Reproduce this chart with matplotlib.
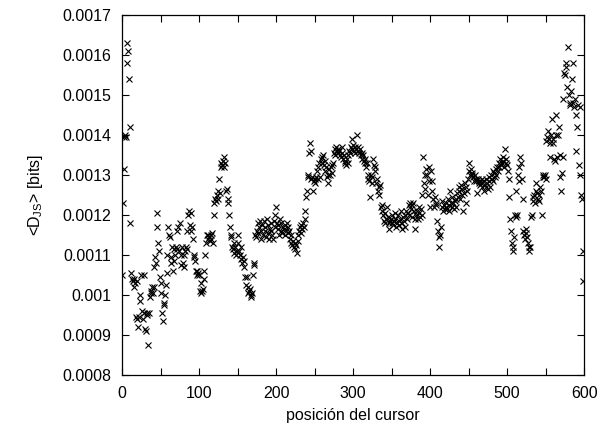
import numpy as np
import matplotlib
matplotlib.use('Agg')
import matplotlib.pyplot as plt
from matplotlib.ticker import MultipleLocator

plt.rcParams['font.family'] = ['Liberation Sans', 'DejaVu Sans']
plt.rcParams['mathtext.default'] = 'regular'

# <D_JS> per cursor position (units of 1e-4 bits)
djs_e4 = [
    10.5, 12.3, 13.15, 13.95, 14.0, 13.95, 15.8, 16.3, 16.1, 15.4,
    14.2, 11.8, 10.55, 10.4, 10.35, 10.2, 10.4, 10.3, 9.45, 9.4,
    10.35, 9.2, 9.45, 10.0, 9.85, 10.5, 9.6, 9.4, 10.5, 9.55,
    9.15, 9.1, 9.55, 9.5, 8.75, 9.55, 9.95, 10.1, 10.05, 10.2,
    10.05, 10.2, 10.7, 10.95, 10.8, 12.05, 11.7, 11.3, 11.1, 10.45,
    10.3, 10.05, 9.55, 9.35, 9.8, 9.75, 10.0, 10.25, 10.55, 11.0,
    11.7, 11.5, 11.45, 10.8, 10.95, 11.2, 10.6, 10.85, 11.15, 11.0,
    11.2, 11.6, 11.15, 11.7, 11.1, 11.8, 11.0, 10.75, 11.2, 10.8,
    10.7, 11.0, 11.1, 11.2, 11.6, 11.15, 12.0, 12.1, 11.75, 12.05,
    11.6, 11.7, 11.4, 11.0, 10.95, 10.85, 10.6, 10.5, 10.6, 10.55,
    10.5, 10.1, 10.05, 10.3, 10.1, 10.15, 10.4, 10.6, 11.0, 11.3,
    11.5, 11.4, 11.5, 11.45, 11.35, 11.5, 11.4, 11.55, 11.3, 12.0,
    12.3, 12.4, 12.35, 12.5, 12.6, 12.4, 12.9, 12.55, 13.2, 13.3,
    13.25, 13.35, 13.2, 13.45, 13.3, 12.6, 12.65, 12.4, 12.3, 12.0,
    11.7, 11.5, 11.45, 11.2, 11.15, 11.3, 11.05, 11.2, 11.0, 11.1,
    11.5, 11.3, 11.1, 11.0, 10.9, 11.2, 10.8, 10.95, 10.7, 10.85,
    10.45, 10.25, 10.45, 10.2, 10.05, 10.1, 10.15, 9.95, 10.0, 10.05,
    10.5, 10.8, 10.75, 11.5, 11.45, 11.6, 11.8, 11.55, 11.7, 11.85,
    11.6, 11.4, 11.75, 11.5, 11.85, 11.6, 11.7, 11.45, 11.9, 11.55,
    11.75, 11.4, 11.65, 11.8, 11.6, 11.5, 11.4, 11.85, 11.7, 12.0,
    12.2, 11.8, 11.65, 11.75, 11.5, 11.9, 11.6, 11.8, 11.55, 11.7,
    11.65, 11.5, 11.75, 11.6, 11.8, 11.7, 11.55, 11.6, 11.4, 11.3,
    11.5, 11.25, 11.35, 11.2, 11.3, 11.15, 11.25, 11.05, 11.35, 11.5,
    11.6, 11.7, 11.55, 11.75, 11.65, 11.8, 11.7, 11.9, 12.1, 12.45,
    12.6, 13.0, 12.95, 13.55, 13.8, 13.6, 12.9, 12.95, 12.6, 12.85,
    12.9, 12.8, 12.95, 13.1, 12.9, 13.2, 13.3, 12.95, 13.4, 13.45,
    13.3, 13.5, 13.25, 13.35, 13.1, 13.2, 12.95, 13.0, 12.8, 13.15,
    13.0, 13.2, 13.05, 13.25, 13.3, 13.55, 13.65, 13.5, 13.7, 13.6,
    13.65, 13.55, 13.6, 13.5, 13.45, 13.7, 13.55, 13.4, 13.5, 13.35,
    13.3, 13.25, 13.4, 13.3, 13.5, 13.6, 13.55, 13.7, 13.9, 13.65,
    13.75, 13.6, 13.7, 13.55, 13.65, 14.0, 13.7, 13.6, 13.55, 13.65,
    13.5, 13.55, 13.4, 13.5, 13.35, 13.3, 13.4, 13.2, 13.3, 13.0,
    12.9, 12.85, 12.45, 13.0, 12.8, 12.95, 13.4, 13.25, 13.1, 13.2,
    12.8, 12.9, 12.6, 12.7, 12.5, 12.75, 12.2, 12.1, 12.25, 12.0,
    11.85, 12.05, 11.8, 11.9, 12.2, 11.95, 11.8, 11.65, 11.85, 11.9,
    11.8, 12.0, 11.75, 11.85, 12.05, 11.9, 11.7, 11.8, 12.0, 11.85,
    11.75, 11.9, 12.1, 11.8, 11.65, 11.95, 11.85, 12.0, 11.7, 12.1,
    11.9, 12.05, 12.25, 12.0, 12.3, 12.15, 12.25, 11.95, 12.3, 12.1,
    11.9, 11.65, 12.0, 12.1, 11.9, 12.2, 12.05, 11.95, 12.15, 12.0,
    12.5, 13.45, 12.8, 13.0, 12.65, 13.15, 13.0, 12.5, 13.2, 12.85,
    12.2, 13.1, 12.6, 12.85, 12.4, 12.2, 12.45, 12.3, 12.25, 11.85,
    11.6, 11.45, 11.2, 11.5, 11.7, 12.2, 12.35, 12.1, 12.25, 12.15,
    12.3, 12.2, 12.15, 12.4, 12.25, 12.1, 12.6, 12.3, 12.2, 12.45,
    12.3, 12.15, 12.35, 12.2, 12.4, 12.55, 12.45, 12.7, 12.6, 12.4,
    12.75, 12.5, 12.65, 12.1, 12.55, 12.8, 12.3, 12.7, 12.6, 12.9,
    13.1, 13.3, 13.0, 13.15, 13.05, 13.0, 12.95, 12.85, 13.0, 12.9,
    12.85, 12.55, 12.9, 12.8, 12.85, 12.75, 12.8, 12.9, 12.7, 12.85,
    12.6, 12.75, 12.9, 12.7, 12.8, 12.65, 12.85, 12.95, 12.7, 13.0,
    12.9, 13.1, 12.85, 13.05, 12.95, 13.15, 13.0, 13.2, 13.1, 13.3,
    13.2, 13.4, 13.25, 13.3, 13.45, 13.35, 13.2, 13.65, 13.4, 13.3,
    13.25, 13.1, 12.9, 12.45, 11.9, 11.6, 11.3, 11.1, 11.2, 11.45,
    12.0, 11.95, 12.6, 12.0, 13.0, 12.85, 13.2, 13.45, 13.3, 12.9,
    12.4, 11.6, 11.5, 11.4, 11.55, 11.65, 11.45, 11.3, 11.2, 11.1,
    11.2, 11.95, 12.0, 12.35, 12.45, 12.5, 12.3, 12.6, 12.8, 12.55,
    12.4, 12.35, 12.5, 12.7, 12.6, 12.0, 12.95, 13.0, 12.95, 13.0,
    12.9, 13.85, 13.95, 14.1, 13.9, 13.8, 13.45, 14.0, 14.4, 13.9,
    13.8, 13.4, 13.35, 14.0, 14.5, 13.45, 14.0, 14.2, 13.5, 12.95,
    12.6, 13.05, 13.45, 14.9, 15.55, 15.5, 15.8, 15.7, 15.2, 16.2,
    15.0, 14.8, 14.75, 15.1, 15.4, 14.8, 15.8, 14.7, 14.9, 13.6,
    14.5, 14.2, 14.75, 13.25, 14.7, 13.0, 12.5, 12.4, 11.1, 10.35,
]
cursor_pos = list(range(len(djs_e4)))

ytick_vals = [0.0008, 0.0009, 0.001, 0.0011, 0.0012, 0.0013, 0.0014, 0.0015, 0.0016, 0.0017]
ytick_labels = ['0.0008', '0.0009', '0.001', '0.0011', '0.0012', '0.0013',
                '0.0014', '0.0015', '0.0016', '0.0017']

djs = np.array(djs_e4) * 1e-4

fig = plt.figure(figsize=(6.01, 4.30), dpi=100)
ax = fig.add_axes([0.203, 0.128, 0.769, 0.837])

ax.plot(cursor_pos, djs, linestyle='none', marker='x', color='black',
        markersize=5, markeredgewidth=0.8)

ax.set_xlim(0, 600)
ax.set_ylim(0.0008, 0.0017)
ax.set_xticks(range(0, 601, 100))
ax.xaxis.set_minor_locator(MultipleLocator(50))
ax.set_yticks(ytick_vals)
ax.set_yticklabels(ytick_labels)

ax.tick_params(which='both', direction='in', top=True, right=True,
               labelsize=11.5, width=0.8)
ax.tick_params(axis='x', which='both', pad=8)
ax.tick_params(axis='y', which='both', pad=8)
ax.tick_params(which='major', length=5)
ax.tick_params(which='minor', length=5)
for sp in ax.spines.values():
    sp.set_linewidth(0.9)

ax.set_xlabel('posición del cursor', fontsize=11.5, labelpad=5)
ax.set_ylabel('<D$_{JS}$> [bits]', fontsize=11.5, labelpad=12)

fig.savefig('out.png', dpi=100)
